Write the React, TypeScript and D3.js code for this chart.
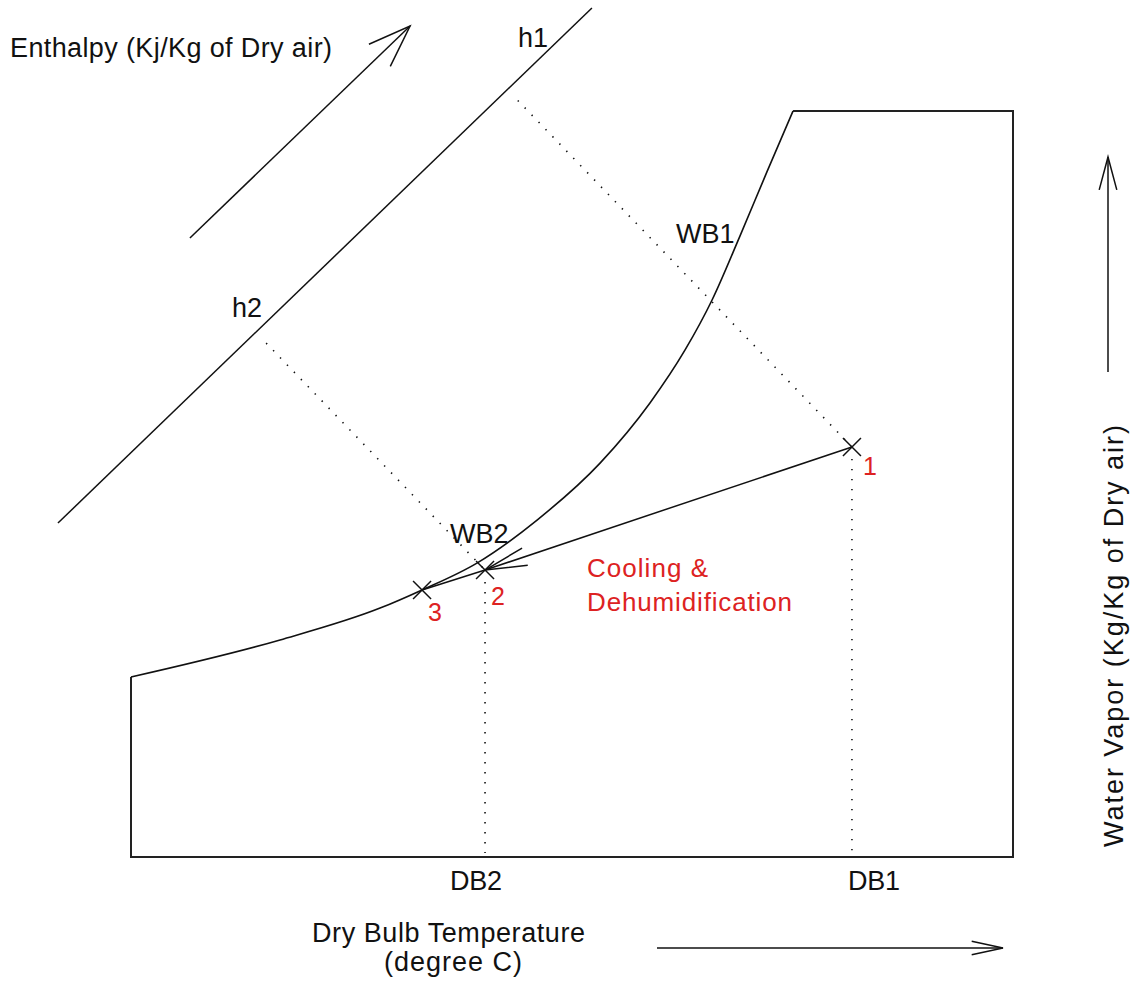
import React from 'react';
import * as d3 from 'd3';

const W = 1132;
const H = 999;

// Dry bulb temperature (°C) and humidity ratio (g/kg) domains of the chart box
const tempDomain: [number, number] = [0, 50];
const humidityDomain: [number, number] = [0, 30];

// Saturation (wet bulb) curve
const saturationT = [0, 8.45, 14.12, 16.5, 19.61, 23.02, 26.59, 29.42, 31.41, 32.94, 34.52, 36.05, 37.53];
const saturationW = [7.24, 8.73, 10.01, 10.74, 11.82, 13.55, 15.84, 18.26, 20.39, 22.4, 24.97, 27.55, 30.0];

// Process states
const stateNames = ['1', '2', '3'];
const stateT = [40.87, 20.07, 16.5];
const stateW = [16.49, 11.54, 10.74];

// Constant enthalpy line and the enthalpy direction arrow
const enthalpyLineT = [-4.14, 26.13];
const enthalpyLineW = [13.43, 34.14];
const enthalpyArrowT = [3.34, 15.82];
const enthalpyArrowW = [24.89, 33.42];

const FONT = "'Liberation Sans', Arial, sans-serif";
const RED = '#dd2222';
const INK = '#111';

function barbs(tip: [number, number], from: [number, number], len: number, deg: number) {
  const a = Math.atan2(from[1] - tip[1], from[0] - tip[0]);
  const r = (deg * Math.PI) / 180;
  const p1 = [tip[0] + len * Math.cos(a + r), tip[1] + len * Math.sin(a + r)];
  const p2 = [tip[0] + len * Math.cos(a - r), tip[1] + len * Math.sin(a - r)];
  return `M${p1[0]},${p1[1]}L${tip[0]},${tip[1]}L${p2[0]},${p2[1]}`;
}

export default function App() {
  const x = d3.scaleLinear().domain(tempDomain).range([131, 1013]);
  const y = d3.scaleLinear().domain(humidityDomain).range([857, 111]);

  const satPts: [number, number][] = saturationT.map((t, i) => [x(t), y(saturationW[i])]);
  const satPath = d3.line().curve(d3.curveMonotoneX)(satPts) || '';

  const lastT = saturationT[saturationT.length - 1];
  const boxPath = d3.line()([
    [x(lastT), y(humidityDomain[1])],
    [x(tempDomain[1]), y(humidityDomain[1])],
    [x(tempDomain[1]), y(humidityDomain[0])],
    [x(tempDomain[0]), y(humidityDomain[0])],
    [x(tempDomain[0]), y(saturationW[0])],
  ]) || '';

  const st = stateT.map((t, i) => [x(t), y(stateW[i])] as [number, number]);

  // enthalpy line in px
  const hA: [number, number] = [x(enthalpyLineT[0]), y(enthalpyLineW[0])];
  const hB: [number, number] = [x(enthalpyLineT[1]), y(enthalpyLineW[1])];
  const dx = hB[0] - hA[0];
  const dy = hB[1] - hA[1];
  const dl = Math.hypot(dx, dy);
  const ux = dx / dl;
  const uy = dy / dl;
  const footOf = (p: [number, number]) => {
    const t = (p[0] - hA[0]) * ux + (p[1] - hA[1]) * uy;
    const f: [number, number] = [hA[0] + t * ux, hA[1] + t * uy];
    const vx = p[0] - f[0];
    const vy = p[1] - f[1];
    const vl = Math.hypot(vx, vy);
    return [f[0] + (vx / vl) * 15, f[1] + (vy / vl) * 15] as [number, number];
  };
  const f1 = footOf(st[0]);
  const f2 = footOf(st[1]);

  const eA: [number, number] = [x(enthalpyArrowT[0]), y(enthalpyArrowW[0])];
  const eB: [number, number] = [x(enthalpyArrowT[1]), y(enthalpyArrowW[1])];

  const dotted = { stroke: INK, strokeWidth: 1.6, strokeDasharray: '1.4 8.6', fill: 'none' };
  const solid = { stroke: INK, strokeWidth: 1.5, fill: 'none' };

  const cross = (p: [number, number], k: number) => (
    <path key={'c' + k} d={`M${p[0] - 9},${p[1] - 9}L${p[0] + 9},${p[1] + 9}M${p[0] + 9},${p[1] - 9}L${p[0] - 9},${p[1] + 9}`} {...solid} />
  );

  const labelOffsets: [number, number][] = [[11, 28], [6, 35], [6, 31]];

  return (
    <svg width={W} height={H} style={{ position: 'absolute', left: 0, top: 0, background: '#fff' }} fontFamily={FONT}>
      <rect width={W} height={H} fill="#fff" />
      {/* chart box */}
      <path d={boxPath} stroke="#222" strokeWidth={2} fill="none" />
      <path d={satPath} {...solid} strokeWidth={1.6} />

      {/* enthalpy line */}
      <line x1={hA[0]} y1={hA[1]} x2={hB[0]} y2={hB[1]} {...solid} />
      <line x1={eA[0]} y1={eA[1]} x2={eB[0]} y2={eB[1]} {...solid} />
      <path d={barbs(eB, eA, 45, 20)} {...solid} />

      {/* dotted guide lines */}
      <line x1={f1[0]} y1={f1[1]} x2={st[0][0]} y2={st[0][1]} {...dotted} />
      <line x1={f2[0]} y1={f2[1]} x2={st[1][0]} y2={st[1][1]} {...dotted} />
      <line x1={st[0][0]} y1={st[0][1] + 12} x2={st[0][0]} y2={y(0) - 4} {...dotted} />
      <line x1={st[1][0]} y1={st[1][1] + 12} x2={st[1][0]} y2={y(0) - 4} {...dotted} />

      {/* process line */}
      <line x1={st[0][0]} y1={st[0][1]} x2={st[1][0]} y2={st[1][1]} {...solid} />
      <path d={barbs(st[1], st[0], 43, 12)} {...solid} />
      <line x1={st[1][0]} y1={st[1][1]} x2={st[2][0]} y2={st[2][1]} {...solid} />
      {st.map((p, i) => cross(p, i))}

      {/* state labels */}
      {st.map((p, i) => (
        <text key={'s' + i} x={p[0] + labelOffsets[i][0]} y={p[1] + labelOffsets[i][1]} fill={RED} fontSize={25}>
          {stateNames[i]}
        </text>
      ))}
      <text x={587} y={577} fill={RED} fontSize={26} textLength={121} lengthAdjust="spacing">Cooling &amp;</text>
      <text x={587} y={611} fill={RED} fontSize={26} textLength={205} lengthAdjust="spacing">Dehumidification</text>

      {/* black labels */}
      <text x={10} y={57} fill={INK} fontSize={27} textLength={322} lengthAdjust="spacing">Enthalpy (Kj/Kg of Dry air)</text>
      <text x={518} y={47} fill={INK} fontSize={27}>h1</text>
      <text x={232} y={317} fill={INK} fontSize={27}>h2</text>
      <text x={676} y={243} fill={INK} fontSize={27}>WB1</text>
      <text x={450} y={543} fill={INK} fontSize={27}>WB2</text>
      <text x={st[1][0] - 35} y={890} fill={INK} fontSize={27} textLength={52} lengthAdjust="spacing">DB2</text>
      <text x={st[0][0] - 4} y={890} fill={INK} fontSize={27} textLength={52} lengthAdjust="spacing">DB1</text>

      <text x={312} y={942} fill={INK} fontSize={27} textLength={273} lengthAdjust="spacing">Dry Bulb Temperature</text>
      <text x={384} y={971} fill={INK} fontSize={27} textLength={138} lengthAdjust="spacing">(degree C)</text>
      <line x1={657} y1={948} x2={1003} y2={948} {...solid} />
      <path d={barbs([1003, 948], [657, 948], 32, 12)} {...solid} />

      <g transform="translate(1123,847) rotate(-90)">
        <text x={0} y={0} fill={INK} fontSize={27} textLength={422} lengthAdjust="spacing">Water Vapor (Kg/Kg of Dry air)</text>
      </g>
      <line x1={1108} y1={372} x2={1108} y2={157} {...solid} />
      <path d={barbs([1108, 157], [1108, 372], 34, 15)} {...solid} />
    </svg>
  );
}
